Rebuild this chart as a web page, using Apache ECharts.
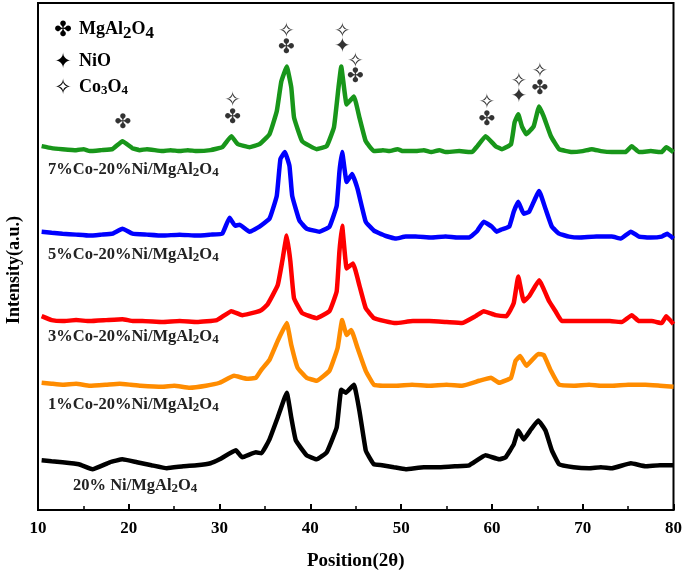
<!DOCTYPE html>
<html>
<head>
<meta charset="utf-8">
<script src="https://cdn.jsdelivr.net/npm/echarts@6/dist/echarts.min.js"></script>
<style>
html,body{margin:0;padding:0;background:#fff;}
#chart{width:685px;height:576px;}
</style>
</head>
<body>
<div id="chart"></div>
<script>
// XRD patterns, stacked (offset intensities, a.u.)
const xTicks = [10, 20, 30, 40, 50, 60, 70, 80];

const s7Co = [[10.4,366],[11.5,364],[12.7,363],[14.2,362],[15.0,363],[15.7,361],[17.0,362],[18.2,363],[19.3,371],[20.4,364],[21.2,362],[22.0,363],[23.7,361],[24.6,362],[25.6,361],[26.5,362],[27.5,361],[29.0,362],[30.3,365],[31.3,376],[32.0,368],[33.3,365],[34.4,368],[35.5,378],[36.3,401],[36.8,431],[37.4,446],[37.9,425],[38.2,395],[39.1,371],[40.7,363],[41.8,366],[42.6,385],[43.1,425],[43.4,446],[44.0,408],[44.8,416],[45.4,395],[46.1,371],[47.0,361],[48.0,362],[48.7,361],[49.6,363],[50.2,361],[51.6,361],[52.5,362],[53.3,360],[54.2,362],[54.9,360],[56.4,361],[57.8,360],[58.4,366],[59.3,376],[60.4,366],[61.1,363],[62.1,368],[62.5,390],[62.9,398],[63.3,386],[63.8,378],[64.6,386],[65.2,406],[65.7,396],[66.5,376],[67.4,363],[68.8,360],[70.0,361],[71.0,363],[72.0,361],[73.2,360],[74.7,360],[75.4,366],[76.2,360],[77.5,361],[78.7,360],[79.2,365],[80.0,360]];

const s5Co = [[10.4,280],[11.5,279],[12.7,278],[14.2,277],[15.7,276],[17.0,277],[18.2,278],[19.3,283],[20.4,278],[22.0,277],[23.7,276],[25.6,277],[27.5,276],[29.0,277],[30.3,278],[31.1,294],[31.7,286],[32.2,287],[33.3,280],[34.4,285],[35.5,293],[36.3,316],[36.7,353],[37.2,360],[37.7,346],[38.0,316],[38.8,291],[39.6,283],[41.0,280],[42.1,285],[42.9,306],[43.2,340],[43.5,360],[44.0,330],[44.6,338],[45.2,323],[46.1,290],[47.0,281],[48.2,276],[49.4,273],[50.5,275],[51.6,275],[53.3,274],[54.9,275],[56.2,274],[57.5,274],[58.4,281],[59.1,290],[60.0,285],[60.5,280],[61.0,282],[61.9,285],[62.4,300],[62.9,310],[63.5,298],[64.1,300],[65.2,321],[65.9,303],[66.6,285],[67.4,278],[68.5,275],[69.6,274],[71.5,275],[73.2,275],[74.2,273],[75.3,280],[76.2,275],[77.5,274],[78.7,275],[79.3,278],[80.0,273]];

const s3Co = [[10.4,195],[11.5,191],[12.7,190],[14.2,191],[15.7,190],[17.5,191],[19.3,192],[20.5,190],[21.5,190],[23.7,189],[25.6,190],[27.5,189],[29.7,191],[31.3,200],[32.5,196],[34.0,199],[34.6,201],[35.3,207],[36.4,226],[36.9,250],[37.4,276],[37.8,250],[38.2,213],[39.1,198],[40.7,193],[42.1,200],[42.9,220],[43.2,260],[43.5,286],[44.0,243],[44.7,248],[45.4,226],[46.1,203],[47.0,193],[48.2,190],[49.4,188],[51.3,190],[53.1,190],[55.0,189],[56.7,188],[58.2,195],[59.1,200],[60.4,196],[61.6,195],[62.4,208],[62.9,235],[63.5,210],[64.1,215],[65.2,231],[66.3,210],[67.0,200],[67.7,190],[69.5,190],[71.4,190],[73.0,190],[74.3,189],[75.4,196],[76.2,190],[77.6,190],[78.7,188],[79.2,195],[80.0,187]];

const s1Co = [[10.4,128],[11.5,127],[12.7,126],[14.2,127],[15.7,125],[17.5,126],[19.0,127],[20.2,126],[21.3,125],[23.7,124],[25.0,125],[26.7,123],[28.5,125],[30.0,128],[31.6,135],[33.0,132],[34.0,133],[34.6,141],[35.5,151],[36.4,170],[37.4,188],[37.9,166],[38.6,143],[39.6,133],[40.7,130],[42.1,140],[43.0,163],[43.5,191],[44.0,176],[44.5,181],[45.2,163],[46.1,140],[47.0,126],[48.2,125],[49.4,125],[51.2,126],[53.1,125],[55.0,126],[56.7,125],[58.6,130],[59.9,133],[60.8,128],[62.1,133],[62.6,150],[63.1,155],[63.8,145],[65.1,157],[65.7,156],[66.5,140],[67.4,126],[69.0,125],[70.7,126],[72.0,125],[73.2,125],[75.0,126],[76.9,126],[78.5,125],[80.0,124]];

const s20Ni = [[10.4,50],[11.5,49],[12.7,48],[14.5,46],[16.0,41],[17.9,48],[19.3,51],[20.9,48],[22.5,45],[24.2,42],[26.0,44],[27.5,45],[29.0,47],[30.0,51],[31.8,60],[32.5,53],[34.0,58],[34.6,57],[35.5,71],[36.4,93],[37.4,118],[37.9,93],[38.4,70],[39.6,55],[40.7,51],[41.8,58],[42.9,83],[43.4,121],[43.9,118],[44.8,126],[45.4,100],[46.1,60],[46.5,53],[47.0,46],[47.9,45],[49.2,43],[50.5,41],[52.5,43],[54.2,43],[56.0,44],[57.5,45],[59.3,55],[60.8,51],[61.5,53],[62.4,66],[62.9,80],[63.5,71],[64.3,81],[65.1,90],[65.9,80],[66.6,60],[67.4,46],[69.0,43],[70.7,42],[72.0,43],[73.2,42],[75.3,47],[76.9,44],[78.5,45],[80.0,45]];

// peak phase markers: [2θ, height]
const markMgAl2O4 = [[19.34,389],[31.43,395],[37.36,465],[44.95,436],[59.45,393],[65.27,424]];
const markNiO = [[43.52,466],[62.97,416]];
const markCo3O4 = [[31.43,412],[37.36,481],[43.52,481],[44.95,451],[59.45,410],[62.97,431],[65.27,441]];

const seriesNames = ['7%Co-20%Ni/MgAl{s|2}O{s|4}','5%Co-20%Ni/MgAl{s|2}O{s|4}','3%Co-20%Ni/MgAl{s|2}O{s|4}','1%Co-20%Ni/MgAl{s|2}O{s|4}','20% Ni/MgAl{s|2}O{s|4}'];
const seriesData = [s7Co, s5Co, s3Co, s1Co, s20Ni];
const seriesColors = ['#18961a','#0000ff','#ff0000','#ff8c00','#000000'];

const SERIF = '"Liberation Serif","Times New Roman",serif';
const SYM = '"DejaVu Sans",sans-serif';

const chart = echarts.init(document.getElementById('chart'));

const lineSeries = seriesData.map((d, i) => ({
  type: 'line',
  name: 'S' + i,
  data: d,
  showSymbol: false,
  smooth: 0.1,
  lineStyle: { color: seriesColors[i], width: 4.5 },
  z: 5 - i,
  silent: true
}));

function markerSeries(arr, ch) {
  return {
    type: 'scatter',
    data: arr,
    symbolSize: 0,
    silent: true,
    z: 10,
    label: {
      show: true,
      position: 'inside',
      formatter: ch,
      fontFamily: SYM,
      fontSize: 20,
      color: '#000'
    }
  };
}

const subRich = { s: { fontFamily: SERIF, fontWeight: 'bold', fontSize: 13, padding: [7, 0, 0, 0], fill: '#222' } };

const labelPos = [[48,171],[48,256],[48,338],[48,406],[73,487]];

const graphics = [];
seriesNames.forEach((t, i) => {
  graphics.push({
    type: 'text',
    left: labelPos[i][0],
    top: labelPos[i][1] - 10,
    silent: true,
    style: { text: t, fontFamily: SERIF, fontWeight: 'bold', fontSize: 16.5, fill: '#222', rich: subRich }
  });
});

// legend block
const legItems = [
  ['\u2724', 'MgAl{t|2}O{t|4}', 31, 18],
  ['\u2726', 'NiO', 63, 18],
  ['\u2727', 'Co{u|3}O{u|4}', 89, 18]
];
legItems.forEach(li => {
  graphics.push({
    type: 'text', x: 63, y: li[2], silent: true,
    style: { text: li[0], fontFamily: SYM, fontSize: 21, fill: '#000', align: 'center', verticalAlign: 'middle' }
  });
  graphics.push({
    type: 'text', left: 79, top: li[2] - 11, silent: true,
    style: {
      text: li[1], fontFamily: SERIF, fontWeight: 'bold', fontSize: li[3], fill: '#000',
      rich: {
        t: { fontFamily: SERIF, fontWeight: 'bold', fontSize: 17, padding: [9, 0, 0, 0], fill: '#000' },
        u: { fontFamily: SERIF, fontWeight: 'bold', fontSize: 13, padding: [8, 0, 0, 0], fill: '#000' }
      }
    }
  });
});

graphics.push({
  type: 'text',
  x: 14, y: 270,
  rotation: Math.PI / 2,
  silent: true,
  style: { text: 'Intensity(a.u.)', fontFamily: SERIF, fontWeight: 'bold', fontSize: 18, fill: '#000', align: 'center', verticalAlign: 'middle' }
});

chart.setOption({
  animation: false,
  backgroundColor: '#fff',
  grid: { left: 38, right: 10, top: 3, bottom: 63, show: true, borderColor: '#000', borderWidth: 2 },
  xAxis: {
    type: 'value',
    min: 10, max: 80, interval: 10,
    name: 'Position(2\u03b8)',
    nameLocation: 'middle',
    nameGap: 42,
    nameTextStyle: { fontFamily: SERIF, fontWeight: 'bold', fontSize: 19, color: '#000' },
    axisLine: { lineStyle: { color: '#000', width: 2 } },
    axisTick: { inside: true, length: 6, lineStyle: { color: '#000', width: 2 } },
    minorTick: { show: true, splitNumber: 2, length: 4, lineStyle: { color: '#000', width: 1.5 } },
    splitLine: { show: false },
    axisLabel: {
      margin: 10,
      fontFamily: SERIF, fontWeight: 'bold', fontSize: 17, color: '#000',
      formatter: v => (xTicks.indexOf(v) >= 0 ? String(v) : '')
    }
  },
  yAxis: {
    type: 'value',
    min: 0, max: 510,
    axisLine: { show: true, lineStyle: { color: '#000', width: 2 } },
    axisTick: { show: false },
    axisLabel: { show: false },
    splitLine: { show: false }
  },
  series: lineSeries.concat([
    markerSeries(markMgAl2O4, '\u2724'),
    markerSeries(markNiO, '\u2726'),
    markerSeries(markCo3O4, '\u2727')
  ]),
  graphic: graphics
});
</script>
</body>
</html>
